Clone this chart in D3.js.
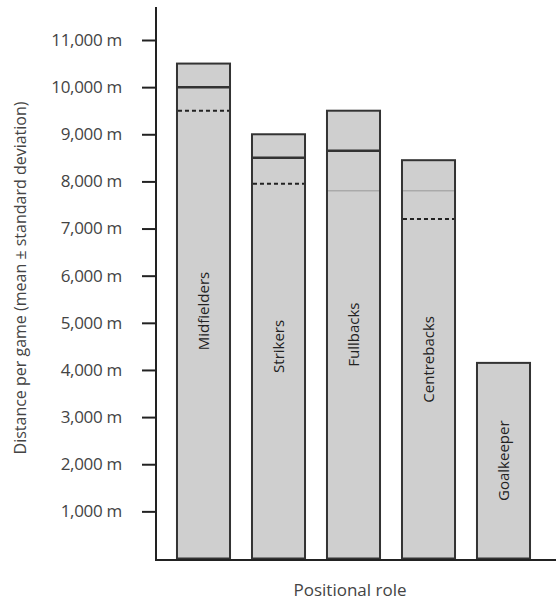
<!DOCTYPE html>
<html>
<head>
<meta charset="utf-8">
<script src="https://cdn.jsdelivr.net/npm/d3@7"></script>
<style>
  body { margin: 0; background: #fff; }
  svg { display: block; font-family: "Open Sans", Lato, sans-serif; }
</style>
</head>
<body>
<div id="chart"></div>
<script>
// chart values
const roles = ["Midfielders", "Strikers", "Fullbacks", "Centrebacks", "Goalkeeper"]
const barTop = [10500, 9000, 9500, 8450, 4150]
const solidLine = [10000, 8500, 8650, null, null]
const dashedLine = [9500, 7950, null, 7200, null]
const thinLine = [null, null, 7800, 7800, null]
const yTicks = [1000, 2000, 3000, 4000, 5000, 6000, 7000, 8000, 9000, 10000, 11000]

const width = 556, height = 606

const svg = d3.select("#chart")
  .append("svg")
    .attr("width", width)
    .attr("height", height)

// scales
const x = d3.scaleBand()
  .domain(roles)
  .range([166, 541])
  .paddingInner(0.293)
  .paddingOuter(0.1465)

const y = d3.scaleLinear()
  .domain([0, 11000])
  .range([558.5, 40])

const rows = roles.map((r, i) => ({
  role: r, top: barTop[i], solid: solidLine[i], dashed: dashedLine[i], thin: thinLine[i]
}))

// bars
svg.selectAll("rect.bar")
  .data(rows)
  .join("rect")
    .attr("class", "bar")
    .attr("x", d => x(d.role))
    .attr("y", d => y(d.top))
    .attr("width", x.bandwidth())
    .attr("height", d => y(0) - y(d.top))
    .attr("fill", "#cfcfcf")
    .attr("stroke", "#333")
    .attr("stroke-width", 2)

// lines inside bars
function innerLines(key, cls) {
  return svg.selectAll("line." + cls)
    .data(rows.filter(d => d[key] != null))
    .join("line")
      .attr("class", cls)
      .attr("x1", d => x(d.role) + 1)
      .attr("x2", d => x(d.role) + x.bandwidth() - 1)
      .attr("y1", d => y(d[key]))
      .attr("y2", d => y(d[key]))
}

innerLines("thin", "thin")
  .attr("stroke", "#999")
  .attr("stroke-width", 1)

innerLines("solid", "solid")
  .attr("stroke", "#333")
  .attr("stroke-width", 2.5)

innerLines("dashed", "dashed")
  .attr("stroke", "#222")
  .attr("stroke-width", 2)
  .attr("stroke-dasharray", "4,3")

// bar labels
svg.selectAll("text.role")
  .data(rows)
  .join("text")
    .attr("class", "role")
    .attr("transform", d => `translate(${x(d.role) + x.bandwidth() / 2},${y(d.top / 2)}) rotate(-90)`)
    .attr("text-anchor", "middle")
    .attr("dy", "0.35em")
    .attr("font-size", 15)
    .attr("fill", "#222")
    .text(d => d.role)

// y axis
const yAxis = svg.append("g")
  .attr("transform", "translate(156,0)")
  .call(d3.axisLeft(y)
    .tickValues(yTicks)
    .tickSize(14)
    .tickPadding(20)
    .tickFormat(d => d3.format(",")(d) + " m"))
yAxis.select(".domain").remove()
yAxis.selectAll(".tick line").attr("stroke", "#222").attr("stroke-width", 2)
yAxis.selectAll(".tick text")
  .attr("font-size", 17)
  .attr("fill", "#444")
  .attr("letter-spacing", -0.3)
  .style("font-family", "'Open Sans', sans-serif")

// axis lines
svg.append("line")
  .attr("x1", 156).attr("x2", 156)
  .attr("y1", 7).attr("y2", 560)
  .attr("stroke", "#222").attr("stroke-width", 2)

svg.append("line")
  .attr("x1", 155).attr("x2", width)
  .attr("y1", 560).attr("y2", 560)
  .attr("stroke", "#222").attr("stroke-width", 2)

// axis titles
svg.append("text")
  .attr("transform", "translate(20,278) rotate(-90)")
  .attr("text-anchor", "middle")
  .attr("dy", "0.35em")
  .attr("font-size", 16)
  .attr("fill", "#444")
  .text("Distance per game (mean ± standard deviation)")

svg.append("text")
  .attr("x", 350)
  .attr("y", 596)
  .attr("text-anchor", "middle")
  .attr("font-size", 17)
  .attr("fill", "#444")
  .text("Positional role")
</script>
</body>
</html>
